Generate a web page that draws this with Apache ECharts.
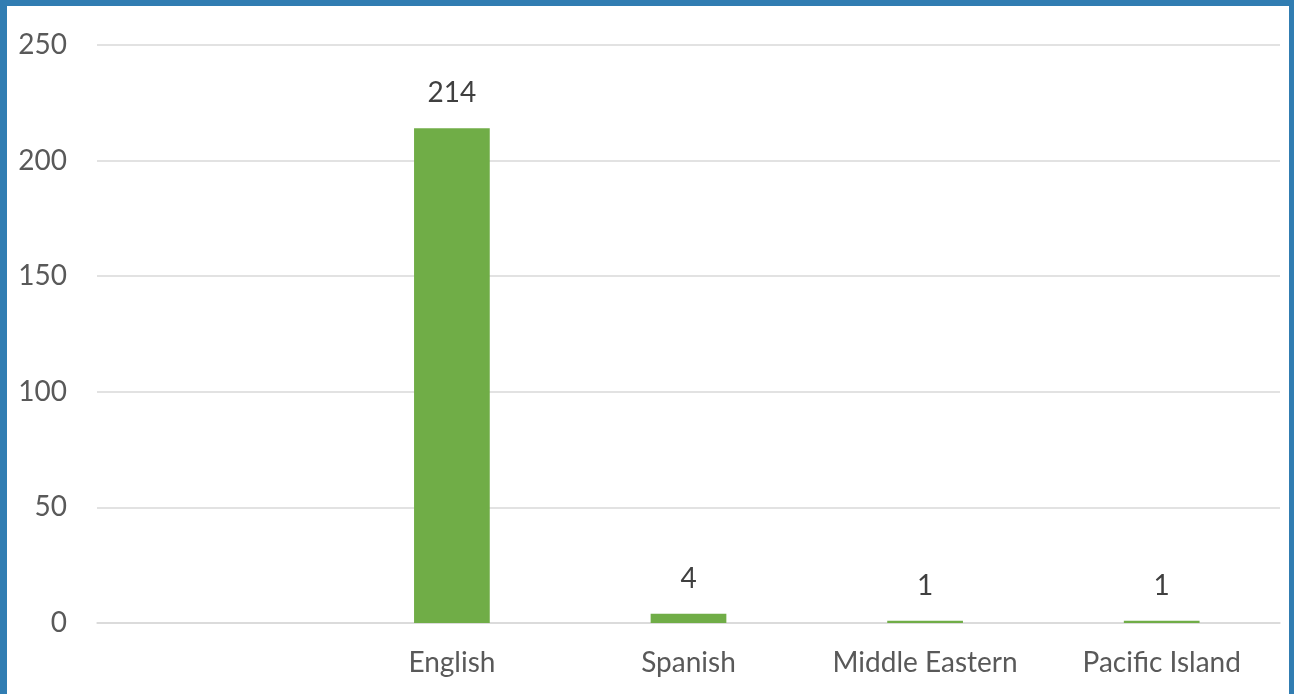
<!DOCTYPE html>
<html>
<head>
<meta charset="utf-8">
<script src="https://cdn.jsdelivr.net/npm/echarts@6/dist/echarts.min.js"></script>
<style>
html,body{margin:0;padding:0;background:#fff;}
#frame{width:1294px;height:694px;box-sizing:border-box;border-top:6px solid #317DB2;border-left:7px solid #317DB2;border-right:5px solid #317DB2;background:#fff;}
#chart{width:1282px;height:688px;}
</style>
</head>
<body>
<div id="frame"><div id="chart"></div></div>
<script>
var categories = ['', 'English', 'Spanish', 'Middle Eastern', 'Pacific Island'];
var counts = ['-', 214, 4, 1, 1];
var yTicks = { min: 0, max: 250, interval: 50 };

var chart = echarts.init(document.getElementById('chart'));
chart.setOption({
  animation: false,
  backgroundColor: '#ffffff',
  grid: { left: 90, right: 9, top: 39, bottom: 71 },
  xAxis: {
    type: 'category',
    data: categories,
    axisLine: { lineStyle: { color: '#D9D9D9', width: 1.5 } },
    axisTick: { show: false },
    axisLabel: { interval: 0, hideOverlap: false, color: '#595959', fontFamily: 'Lato', fontSize: 28, margin: 26 }
  },
  yAxis: {
    type: 'value',
    min: yTicks.min, max: yTicks.max, interval: yTicks.interval,
    axisLine: { show: false },
    axisTick: { show: false },
    splitLine: { lineStyle: { color: '#D9D9D9', width: 1.5 } },
    axisLabel: { color: '#595959', fontFamily: 'Lato', fontSize: 28, margin: 30 }
  },
  series: [{
    type: 'bar',
    data: counts,
    barWidth: '32%',
    itemStyle: { color: '#70AD47' },
    label: { show: true, position: 'top', distance: 21, color: '#404040', fontFamily: 'Lato', fontSize: 28 }
  }]
});
</script>
</body>
</html>
